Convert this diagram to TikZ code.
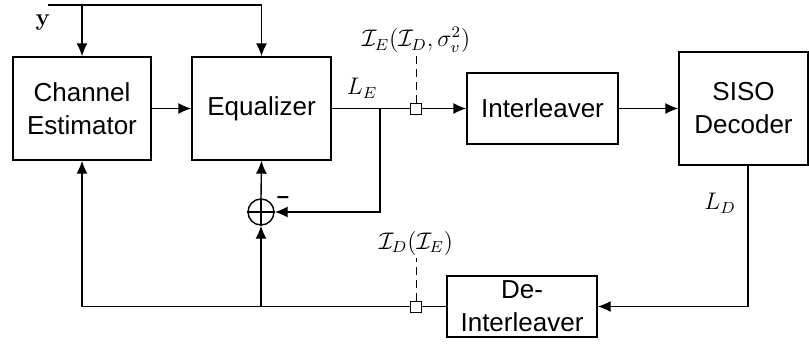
\documentclass[tikz,border=0pt]{standalone}
\usepackage[no-math]{fontspec}
\newfontfamily\lsans{Liberation Sans}
\usetikzlibrary{arrows.meta,calc}
\begin{document}
\begin{tikzpicture}[x=0.5pt,y=-0.5pt,
  line width=0.7pt,
  blk/.style={draw,align=center,font=\lsans\fontsize{13}{16.5}\selectfont,inner sep=0pt},
  arr/.style={-{Latex[length=6.5pt,width=5.5pt]}},
  mlab/.style={font=\fontsize{11.5}{14}\selectfont,inner sep=1pt},
  probe/.style={draw,fill=white,minimum size=5.5pt,inner sep=0pt,line width=0.5pt}]
\useasboundingbox (0,0) rectangle (809,343);
\node[blk,minimum width=69pt,minimum height=51.5pt] (CE) at (82,108.5) {Channel\\Estimator};
\node[blk,minimum width=69.5pt,minimum height=51.5pt] (EQ) at (261.5,108.5) {Equalizer};
\node[blk,minimum width=75.5pt,minimum height=35.5pt] (IL) at (542.5,108.5) {Interleaver};
\node[blk,minimum width=64.5pt,minimum height=56.5pt] (SD) at (743.5,108.5) {SISO\\Decoder};
\node[blk,minimum width=75pt,minimum height=30.5pt] (DI) at (522,306.5) {De-\\Interleaver};
\node[draw,circle,minimum size=13pt,inner sep=0pt] (sum) at (261,212) {};
\draw (sum.north) -- (sum.south) (sum.west) -- (sum.east);
\node[font=\lsans\bfseries\fontsize{11}{12}\selectfont,inner sep=0pt] (minus) at (283,200) {–};

% input y
\coordinate (yin) at (48,5);
\node[mlab] (ylab) at (43,22) {$\mathbf{y}$};
\draw (yin) -- (EQ.north |- yin);
\draw[arr] (EQ.north |- yin) -- (EQ.north);
\draw[arr] (CE.north |- yin) -- (CE.north);

\draw[arr] (CE.east) -- (EQ.west);
\draw[arr] (EQ.east) -- (IL.west);
\draw[arr] (IL.east) -- (SD.west);
\node[mlab] (LE) at (362,88) {$L_E$};

% feedback to sum
\coordinate (br) at (380,108.5);
\draw[arr] (br) |- (sum.east);
\draw[arr] (sum.north) -- (EQ.south);

% decoder output
\coordinate (dout) at ($(SD.south)+(4.5,0)$);
\draw[arr] (dout) |- (DI.east);
\node[mlab] (LD) at (720,203) {$L_D$};

% bottom feedback
\draw[arr] (DI.west) -| (CE.south);
\draw[arr] (sum.south |- DI.west) -- (sum.south);

% probes
\node[probe] (p1) at (416,108.5) {};
\node[mlab] (IE) at (416,40) {$\mathcal{I}_E(\mathcal{I}_D,\sigma_v^2)$};
\draw[line width=0.5pt,dash pattern=on 4pt off 2.5pt] (p1.north) -- (IE.south);
\node[probe] (p2) at (416,306.5) {};
\node[mlab] (ID) at (416,243) {$\mathcal{I}_D(\mathcal{I}_E)$};
\draw[line width=0.5pt,dash pattern=on 4pt off 2.5pt] (p2.north) -- (ID.south);
\end{tikzpicture}
\end{document}
